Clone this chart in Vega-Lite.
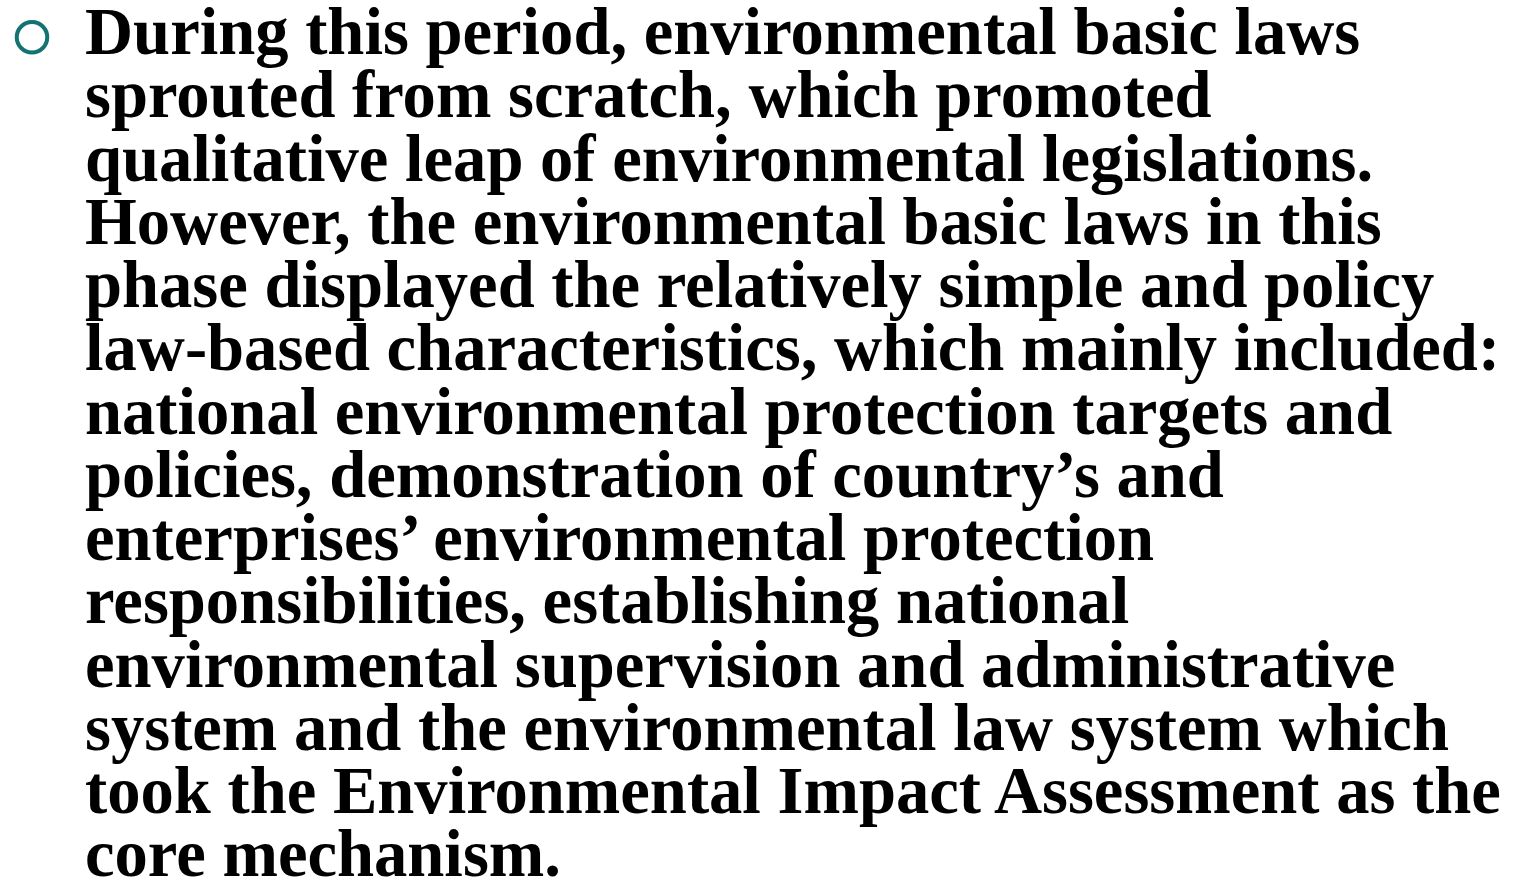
{
  "$schema": "https://vega.github.io/schema/vega-lite/v6.json",
  "width": 1529,
  "height": 890,
  "autosize": {"type": "fit", "contains": "padding"},
  "padding": 0,
  "background": "white",
  "config": {"view": {"stroke": null}},
  "datasets": {
    "lines": [
      {"line": 1, "col": 1, "text": "During this period, environmental basic laws"},
      {"line": 2, "col": 1, "text": "sprouted from scratch, which promoted"},
      {"line": 3, "col": 1, "text": "qualitative leap of environmental legislations."},
      {"line": 4, "col": 1, "text": "However, the environmental basic laws in this"},
      {"line": 5, "col": 1, "text": "phase displayed the relatively simple and policy"},
      {"line": 6, "col": 1, "text": "law-based characteristics, which mainly included:"},
      {"line": 7, "col": 1, "text": "national environmental protection targets and"},
      {"line": 8, "col": 1, "text": "policies, demonstration of country\u2019s and"},
      {"line": 9, "col": 1, "text": "enterprises\u2019 environmental protection"},
      {"line": 10, "col": 1, "text": "responsibilities, establishing national"},
      {"line": 11, "col": 1, "text": "environmental supervision and administrative"},
      {"line": 12, "col": 1, "text": "system and the environmental law system which"},
      {"line": 13, "col": 1, "text": "took the Environmental Impact Assessment as the"},
      {"line": 14, "col": 1, "text": "core mechanism."}
    ],
    "bullets": [
      {"line": 1, "col": 0}
    ]
  },
  "layer": [
    {
      "data": {"name": "bullets"},
      "mark": {"type": "point", "shape": "circle", "filled": false, "size": 930, "strokeWidth": 4, "color": "#137373", "opacity": 1, "yOffset": -17},
      "encoding": {
        "x": {"field": "col", "type": "quantitative", "scale": {"domain": [-0.6038, 28.245], "nice": false, "zero": false}, "axis": null},
        "y": {"field": "line", "type": "quantitative", "scale": {"domain": [0.142, 14.027], "nice": false, "zero": false, "reverse": true}, "axis": null}
      }
    },
    {
      "data": {"name": "lines"},
      "mark": {"type": "text", "align": "left", "baseline": "alphabetic", "font": "Liberation Serif", "fontWeight": "bold", "fontSize": 66.6, "color": "black"},
      "encoding": {
        "x": {"field": "col", "type": "quantitative", "scale": {"domain": [-0.6038, 28.245], "nice": false, "zero": false}, "axis": null},
        "y": {"field": "line", "type": "quantitative", "scale": {"domain": [0.142, 14.027], "nice": false, "zero": false, "reverse": true}, "axis": null},
        "text": {"field": "text", "type": "nominal"}
      }
    }
  ]
}
